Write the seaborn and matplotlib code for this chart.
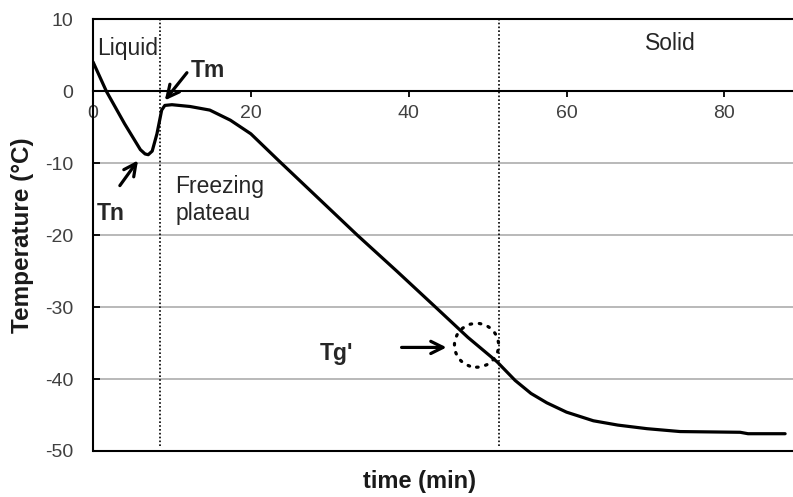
import matplotlib
matplotlib.use("Agg")
import matplotlib.pyplot as plt
from matplotlib.patches import Ellipse
import seaborn as sns
import pandas as pd

# ---- data ----
time_min = [0, 1.7, 4.0, 6.0, 6.6, 7.0, 7.5, 8.1, 8.7, 9.1, 10.0, 12.3, 14.8, 17.4,
            20.0, 23.5, 28.5, 33.5, 38.5, 43.6, 47.5, 51.2, 53.5, 55.5, 57.5,
            60.0, 63.4, 66.5, 70.2, 74.4, 82.0, 83.0, 87.7]
temperature = [4.1, 0.0, -4.5, -8.1, -8.7, -8.8, -8.3, -5.9, -2.6, -1.95, -1.85,
               -2.1, -2.6, -4.0, -5.9, -9.6, -14.8, -20.0, -25.0, -30.2, -34.2,
               -37.6, -40.2, -42.0, -43.3, -44.6, -45.8, -46.4, -46.9, -47.3,
               -47.4, -47.6, -47.6]
phase_lines = [8.5, 51.4]
x_ticks = [0, 20, 40, 60, 80]
y_ticks = [10, 0, -10, -20, -30, -40, -50]

df = pd.DataFrame({"time": time_min, "temp": temperature})

sns.set_theme(style="white")
plt.rcParams["font.family"] = ["Liberation Sans", "DejaVu Sans"]
plt.rcParams["axes.unicode_minus"] = False

fig = plt.figure(figsize=(7.93, 4.97), dpi=100)
ax = fig.add_axes([0.1173, 0.0926, 0.8827, 0.8682])

ax.set_xlim(0, 88.7)
ax.set_ylim(-50, 10)

ax.set_yticks(y_ticks)
ax.set_xticks(x_ticks)
ax.yaxis.grid(True, color="#a6a6a6", linewidth=1.1)
ax.xaxis.grid(False)
ax.set_axisbelow(True)

# reference lines
ax.axhline(-50, color="black", linewidth=1.5, clip_on=False, zorder=3)
ax.vlines(phase_lines, -49.3, 10, colors="black", linewidth=1.2,
          linestyles=(0, (1, 1.3)), zorder=2)

sns.lineplot(data=df, x="time", y="temp", ax=ax, color="black",
             linewidth=2.3, zorder=4)

# spines
ax.spines["right"].set_visible(False)
ax.spines["bottom"].set_position(("data", 0))
for s in ["left", "top", "bottom"]:
    ax.spines[s].set_color("black")
    ax.spines[s].set_linewidth(1.5)

ax.tick_params(axis="x", direction="out", length=4, width=1.3, color="black",
               pad=6, labelsize=14, labelcolor="#404040", bottom=True)
ax.tick_params(axis="y", direction="in", length=5, width=1.3, color="black",
               pad=14, labelsize=14, labelcolor="#404040", left=True)

ax.set_xlabel("time (min)", fontsize=17, fontweight="bold", color="#1a1a1a")
ax.set_ylabel("Temperature (°C)", fontsize=17.5, fontweight="bold", color="#1a1a1a")
ax.xaxis.set_label_coords(0.466, -0.045)
ax.yaxis.set_label_coords(-0.085, 0.5)

txt = "#262626"
fs = 16.5
ax.text(0.5, 6.0, "Liquid", fontsize=fs, color=txt, va="center", ha="left")
ax.text(73.1, 6.7, "Solid", fontsize=fs, color=txt, va="center", ha="center")
ax.text(10.4, -15.1, "Freezing\nplateau", fontsize=fs, color=txt,
        va="center", ha="left", linespacing=1.25)
ax.text(12.4, 2.9, "Tm", fontsize=fs, fontweight="bold", color=txt,
        va="center", ha="left")
ax.text(0.5, -17.0, "Tn", fontsize=fs, fontweight="bold", color=txt,
        va="center", ha="left")
ax.text(30.9, -36.4, "Tg'", fontsize=fs, fontweight="bold", color=txt,
        va="center", ha="center")

arrow = dict(arrowstyle="->", color="black", lw=2.3, mutation_scale=22,
             shrinkA=0, shrinkB=0)
ax.annotate("", xy=(9.1, -1.25), xytext=(11.9, 2.6), arrowprops=arrow)
ax.annotate("", xy=(5.7, -9.6), xytext=(3.4, -13.1), arrowprops=arrow)
ax.annotate("", xy=(44.8, -35.6), xytext=(39.1, -35.6), arrowprops=arrow)

circ = Ellipse((48.6, -35.3), width=5.6, height=6.1, fill=False,
               edgecolor="black", linewidth=2.3, linestyle=(0, (0.5, 2.4)),
               zorder=5)
circ.set_capstyle("round")
ax.add_patch(circ)

fig.savefig("out.png", dpi=100)
